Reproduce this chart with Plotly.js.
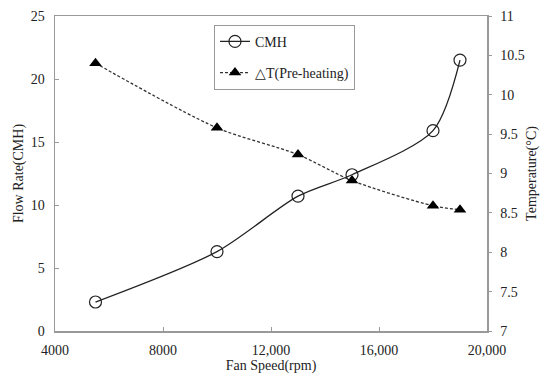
<!DOCTYPE html>
<html>
<head>
<meta charset="utf-8">
<script src="https://cdn.plot.ly/plotly-3.0.1.min.js"></script>
<style>html,body{margin:0;padding:0;background:#fff;}#chart{width:550px;height:382px;}</style>
</head>
<body>
<div id="chart"></div>
<script>
var fanSpeed = [5500, 10000, 13000, 15000, 18000, 19000];
var flowRateCMH = [2.3, 6.3, 10.7, 12.4, 15.9, 21.5];
var deltaTPreheating = [10.4, 9.58, 9.24, 8.91, 8.59, 8.54];
var xTickVals = [4000, 8000, 12000, 16000, 20000];
var xTickText = ["4000", "8000", "12,000", "16,000", "20,000"];
var yTickVals = [0, 5, 10, 15, 20, 25];
var y2TickVals = [7, 7.5, 8, 8.5, 9, 9.5, 10, 10.5, 11];

var fontFam = "Liberation Serif";
var axisCol = "#999999";

var traces = [
  {
    x: fanSpeed, y: flowRateCMH, name: "CMH", type: "scatter", mode: "lines+markers",
    line: {color: "#222222", width: 1.3, shape: "spline", smoothing: 0.8},
    marker: {symbol: "circle-open", size: 12, color: "#222222", line: {width: 1.2}},
    legendgroup: "a"
  },
  {
    x: fanSpeed, y: deltaTPreheating, name: "△T(Pre-heating)", type: "scatter", mode: "lines+markers",
    yaxis: "y2",
    line: {color: "#333333", width: 1.3, dash: "3px,2px", shape: "spline", smoothing: 0.8},
    marker: {symbol: "triangle-up", size: 11, color: "#000000"},
    legendgroup: "b"
  }
];

var layout = {
  width: 550, height: 382,
  margin: {l: 55, r: 63, t: 16, b: 51},
  paper_bgcolor: "#ffffff", plot_bgcolor: "#ffffff",
  font: {family: fontFam, size: 14, color: "#222222"},
  showlegend: true,
  legend: {
    x: 0.368, y: 0.972, xanchor: "left", yanchor: "top",
    bordercolor: axisCol, borderwidth: 1, bgcolor: "#ffffff",
    font: {family: fontFam, size: 14, color: "#222222"},
    traceorder: "grouped", tracegroupgap: 10, itemwidth: 30
  },
  xaxis: {
    range: [4000, 20000], tickvals: xTickVals, ticktext: xTickText,
    showgrid: false, zeroline: false, showline: true, linecolor: axisCol, linewidth: 1.5,
    mirror: true, ticks: "inside", ticklen: 4, tickcolor: axisCol, ticklabelstandoff: 6,
    tickfont: {family: fontFam, size: 14, color: "#222222"},
    title: {text: "Fan Speed(rpm)", font: {family: fontFam, size: 14, color: "#222222"}, standoff: 0}
  },
  yaxis: {
    range: [0, 25], tickvals: yTickVals,
    showgrid: false, zeroline: false, showline: true, linecolor: axisCol, linewidth: 1.5,
    mirror: true, ticks: "inside", ticklen: 4, tickcolor: axisCol, ticklabelstandoff: 6,
    tickfont: {family: fontFam, size: 14, color: "#222222"},
    title: {text: "Flow Rate(CMH)", font: {family: fontFam, size: 14, color: "#222222"}, standoff: 4}
  },
  yaxis2: {
    range: [7, 11], tickvals: y2TickVals, overlaying: "y", side: "right",
    showgrid: false, zeroline: false, showline: true, linecolor: axisCol, linewidth: 1.5,
    ticks: "outside", ticklen: 3, tickcolor: axisCol, ticklabelstandoff: 6,
    tickfont: {family: fontFam, size: 14, color: "#222222"},
    title: {text: "Temperature(°C)", font: {family: fontFam, size: 14, color: "#222222"}, standoff: 2}
  }
};

Plotly.newPlot("chart", traces, layout, {displayModeBar: false, staticPlot: true});
</script>
</body>
</html>
